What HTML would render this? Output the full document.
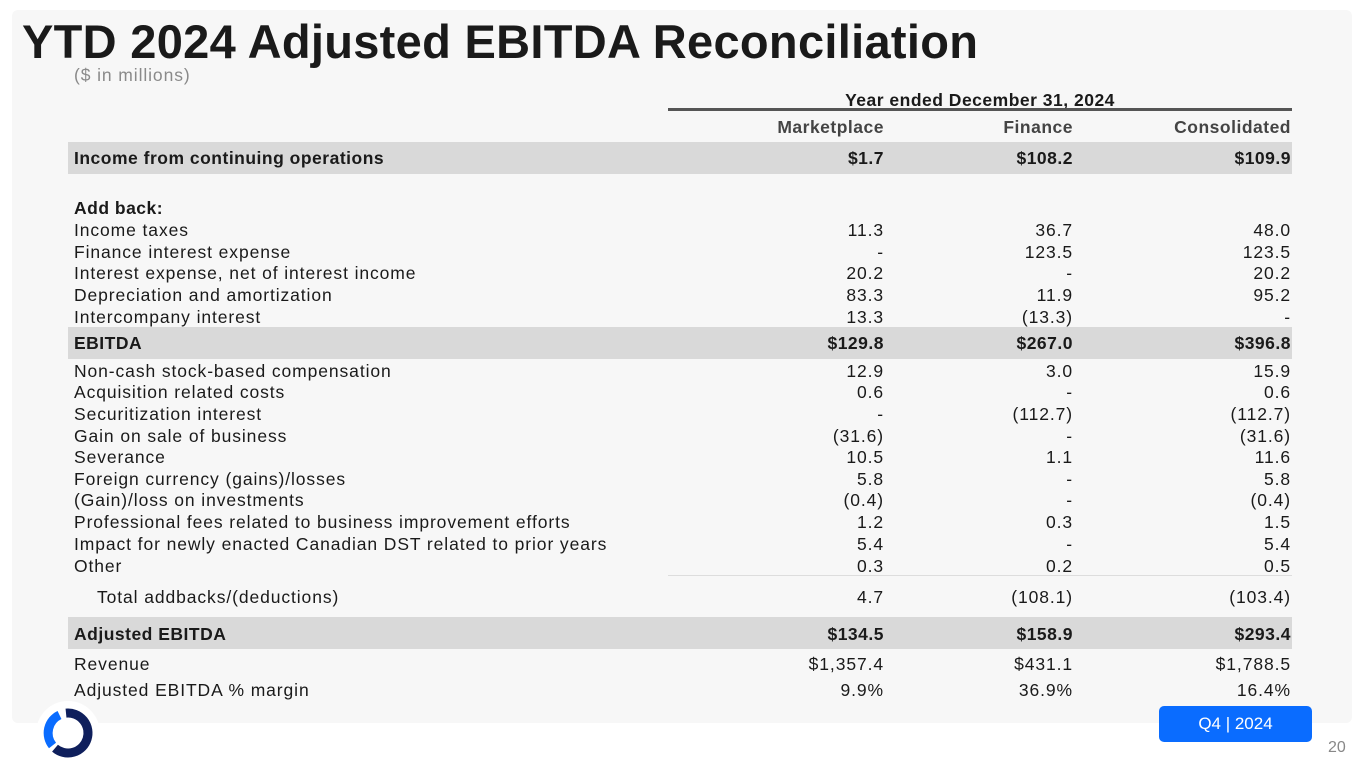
<!DOCTYPE html>
<html><head><meta charset="utf-8"><style>
body{margin:0;width:1365px;height:768px;background:#fff;position:relative;overflow:hidden;font-family:"Liberation Sans",sans-serif;color:#1a1a1a}
.panel{position:absolute;left:12px;top:10px;width:1340px;height:713px;background:#f7f7f7;border-radius:6px}
.t{position:absolute;white-space:nowrap;font-size:17.5px;line-height:20px;letter-spacing:0.9px}
.lab{left:74px}
.c1,.c2,.c3{text-align:right;width:240px}
.c1{left:644px}.c2{left:833px}.c3{left:1051px}
.b{font-weight:bold;letter-spacing:0.5px}
.band{position:absolute;left:68px;width:1224px;height:32px;background:#d9d9d9}
</style></head><body>
<div class="panel"></div>
<div class="t b" style="left:22px;top:14px;font-size:47px;line-height:56px;letter-spacing:0.3px">YTD 2024 Adjusted EBITDA Reconciliation</div>
<div class="t" style="left:74px;top:65px;color:#8a8a8a">($ in millions)</div>
<div class="t b" style="left:668px;width:624px;text-align:center;top:90px">Year ended December 31, 2024</div>
<div style="position:absolute;left:668px;top:108px;width:624px;height:3px;background:#555"></div>
<div class="t b c1" style="top:117px;color:#444">Marketplace</div>
<div class="t b c2" style="top:117px;color:#444">Finance</div>
<div class="t b c3" style="top:117px;color:#444">Consolidated</div>
<div class="band" style="top:142px"></div>
<div class="band" style="top:327px"></div>
<div class="band" style="top:617px"></div>
<div style="position:absolute;left:668px;top:575px;width:624px;height:1px;background:#ddd"></div>
<div id="rows"></div>
<div style="position:absolute;left:1159px;top:706px;width:153px;height:36px;background:#0a6cff;border-radius:5px;color:#fff;font-size:17px;line-height:36px;text-align:center">Q4 | 2024</div>
<div class="t" style="left:1328px;top:738px;color:#888;font-size:16px;letter-spacing:0">20</div>
<svg style="position:absolute;left:36px;top:701px" width="64" height="64">
<circle cx="32" cy="32" r="32" fill="#fff"/>
<path d="M30,12.1 A20,20 0 1 1 19,47.2" fill="none" stroke="#0f1f5c" stroke-width="9"/>
<path d="M16.5,44.5 A20,20 0 0 1 23.5,14" fill="none" stroke="#0a6cff" stroke-width="9"/>
</svg>
<script>
const labels=["Income from continuing operations","Add back:","Income taxes","Finance interest expense","Interest expense, net of interest income","Depreciation and amortization","Intercompany interest","EBITDA","Non-cash stock-based compensation","Acquisition related costs","Securitization interest","Gain on sale of business","Severance","Foreign currency (gains)/losses","(Gain)/loss on investments","Professional fees related to business improvement efforts","Impact for newly enacted Canadian DST related to prior years","Other","Total addbacks/(deductions)","Adjusted EBITDA","Revenue","Adjusted EBITDA % margin"];
const marketplace=["$1.7","","11.3","-","20.2","83.3","13.3","$129.8","12.9","0.6","-","(31.6)","10.5","5.8","(0.4)","1.2","5.4","0.3","4.7","$134.5","$1,357.4","9.9%"];
const finance=["$108.2","","36.7","123.5","-","11.9","(13.3)","$267.0","3.0","-","(112.7)","-","1.1","-","-","0.3","-","0.2","(108.1)","$158.9","$431.1","36.9%"];
const consolidated=["$109.9","","48.0","123.5","20.2","95.2","-","$396.8","15.9","0.6","(112.7)","(31.6)","11.6","5.8","(0.4)","1.5","5.4","0.5","(103.4)","$293.4","$1,788.5","16.4%"];
const rowY=[158,208,230,252,273,295,317,343,371,392,414,436,457,479,500,522,544,566,597,634,664,690];
const boldRows=[0,1,7,19];
const host=document.getElementById('rows');
labels.forEach((l,i)=>{
  const bold=boldRows.includes(i);
  const mk=(cls,txt,left)=>{const d=document.createElement('div');d.className='t '+cls+(bold?' b':'');d.textContent=txt;d.style.top=(rowY[i]-10)+'px';if(left)d.style.left=left+'px';host.appendChild(d);return d;};
  const a=mk('lab',l,i===18?97:null);
  
  
  const b=mk('c1',marketplace[i]);
  
  
  const c=mk('c2',finance[i]);
  
  
  const e=mk('c3',consolidated[i]);
  
  
});
</script>
</body></html>
